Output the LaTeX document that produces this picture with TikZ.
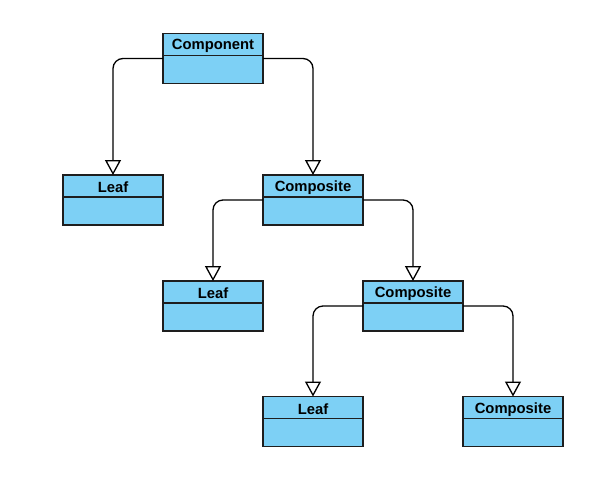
\documentclass[tikz,border=0pt]{standalone}
\usepackage{fontspec}
\setmainfont{Liberation Sans}
\usetikzlibrary{arrows.meta}
\definecolor{classfill}{RGB}{125,208,245}
\definecolor{classline}{RGB}{30,30,30}
\tikzset{
  classbox/.style={draw=classline, fill=classfill, line width=1.3pt, minimum width=100pt, minimum height=50pt, inner sep=0pt, outer sep=0pt},
  classname/.style={anchor=north, inner sep=0pt, minimum height=22pt, yshift=-1.5pt, font=\fontsize{14.8}{16}\selectfont\bfseries},
  gen/.style={draw=black, line width=1.3pt, rounded corners=10pt, -{Triangle[open, length=15pt, width=16pt, fill=white]}}
}
\newcommand{\umlclass}[3]{%
  \node[classbox] (#1) at (#2) {};
  \node[classname] (#1t) at (#1.north) {#3};
  \draw[classline, line width=1.3pt] ([yshift=-22pt]#1.north west) -- ([yshift=-22pt]#1.north east);
}
\begin{document}
\begin{tikzpicture}[x=1pt,y=-1pt]
\useasboundingbox (0,0) rectangle (609,479);
\umlclass{comp}{213,58.5}{Component}
\umlclass{leafa}{113,200}{Leaf}
\umlclass{compa}{313,200}{Composite}
\umlclass{leafb}{213,306}{Leaf}
\umlclass{compb}{413,306}{Composite}
\umlclass{leafc}{313,421.5}{Leaf}
\umlclass{compc}{513,421.5}{Composite}
\draw[gen] (comp.west) -| (leafa.north);
\draw[gen] (comp.east) -| (compa.north);
\draw[gen] (compa.west) -| (leafb.north);
\draw[gen] (compa.east) -| (compb.north);
\draw[gen] (compb.west) -| (leafc.north);
\draw[gen] (compb.east) -| (compc.north);
\end{tikzpicture}
\end{document}
